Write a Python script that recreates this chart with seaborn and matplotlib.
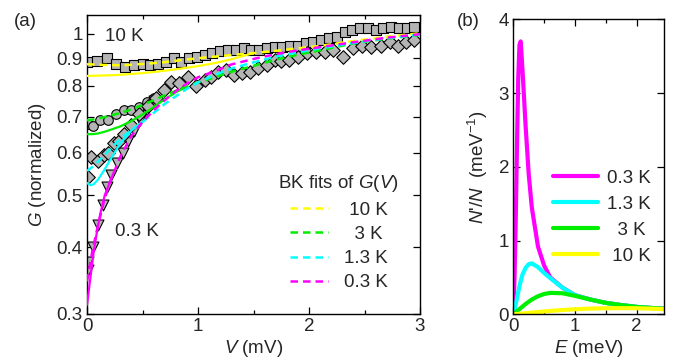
import numpy as np
import pandas as pd
import matplotlib
matplotlib.use("Agg")
import matplotlib.pyplot as plt
import matplotlib.ticker as mticker
import seaborn as sns

# ---------------- data: panel (a) ----------------
v_sq = [0.00, 0.09, 0.18, 0.26, 0.34, 0.42, 0.50, 0.57, 0.64, 0.71, 0.78, 0.85, 0.92, 0.99,
        1.06, 1.13, 1.20, 1.27, 1.34, 1.41, 1.48, 1.55, 1.62, 1.69, 1.76, 1.83, 1.90, 1.97,
        2.04, 2.11, 2.18, 2.25, 2.32, 2.39, 2.46, 2.53, 2.60, 2.67, 2.74, 2.81, 2.88, 2.95]
g_sq = [0.885, 0.89, 0.90, 0.88, 0.866, 0.875, 0.88, 0.875, 0.878, 0.888, 0.90, 0.886, 0.90, 0.905,
        0.915, 0.92, 0.93, 0.935, 0.935, 0.94, 0.935, 0.935, 0.94, 0.945, 0.945, 0.95, 0.95, 0.96,
        0.966, 0.975, 0.983, 0.985, 1.008, 1.017, 1.026, 1.025, 1.017, 1.026, 1.03, 1.026, 1.026, 1.03]

v_ci = [0.01, 0.05, 0.12, 0.19, 0.26, 0.33, 0.40, 0.47, 0.54, 0.60]
g_ci = [0.68, 0.672, 0.69, 0.692, 0.71, 0.72, 0.72, 0.73, 0.745, 0.76]

v_tri = [0.005, 0.01, 0.05, 0.10, 0.14, 0.18, 0.22, 0.27, 0.32, 0.37, 0.42, 0.48, 0.54, 0.60]
g_tri = [0.362, 0.375, 0.40, 0.44, 0.48, 0.518, 0.545, 0.575, 0.60, 0.63, 0.66, 0.69, 0.72, 0.75]

v_di = [0.01, 0.04, 0.10, 0.15, 0.19, 0.24, 0.29, 0.33, 0.40, 0.47, 0.55, 0.62, 0.69, 0.76,
        0.83, 0.91, 0.98, 1.06, 1.12, 1.18, 1.25, 1.32, 1.40, 1.47, 1.54, 1.62, 1.69, 1.75,
        1.82, 1.90, 1.98, 2.06, 2.14, 2.22, 2.31, 2.40, 2.48, 2.56, 2.65, 2.73, 2.80, 2.87, 2.95]
g_di = [0.54, 0.59, 0.58, 0.595, 0.60, 0.625, 0.63, 0.65, 0.675, 0.71, 0.735, 0.76, 0.785, 0.815,
        0.81, 0.83, 0.80, 0.82, 0.83, 0.85, 0.856, 0.84, 0.845, 0.85, 0.864, 0.875, 0.894, 0.89,
        0.895, 0.905, 0.92, 0.925, 0.925, 0.933, 0.905, 0.94, 0.95, 0.945, 0.95, 0.966, 0.95, 0.966, 0.975]

v_fit = [0, 0.05, 0.1, 0.15, 0.2, 0.3, 0.4, 0.5, 0.6, 0.7, 0.8, 0.9, 1.0, 1.15, 1.3, 1.5, 1.7, 1.9, 2.1, 2.4, 2.7, 3.0]
bk_10K = [0.878, 0.877, 0.876, 0.875, 0.875, 0.874, 0.876, 0.879, 0.882, 0.886, 0.891, 0.896, 0.901, 0.907, 0.913, 0.921, 0.930, 0.940, 0.950, 0.970, 0.988, 1.003]
bk_3K = [0.690, 0.692, 0.695, 0.699, 0.703, 0.712, 0.723, 0.737, 0.752, 0.768, 0.783, 0.798, 0.812, 0.830, 0.850, 0.872, 0.895, 0.915, 0.932, 0.960, 0.980, 0.996]
bk_1p3K = [0.555, 0.565, 0.578, 0.592, 0.607, 0.637, 0.662, 0.685, 0.712, 0.740, 0.765, 0.790, 0.812, 0.838, 0.862, 0.885, 0.907, 0.924, 0.940, 0.962, 0.982, 0.997]
bk_0p3K = [0.345, 0.395, 0.440, 0.485, 0.525, 0.590, 0.645, 0.685, 0.720, 0.752, 0.782, 0.808, 0.830, 0.852, 0.877, 0.898, 0.917, 0.932, 0.945, 0.965, 0.984, 0.999]

v_s10 = [0, 0.1, 0.2, 0.3, 0.4, 0.5, 0.6, 0.7, 0.8, 0.9, 1.0, 1.15, 1.3, 1.5]
g_s10 = [0.835, 0.836, 0.837, 0.839, 0.842, 0.845, 0.849, 0.854, 0.859, 0.865, 0.871, 0.882, 0.897, 0.921]
v_s3 = [0, 0.05, 0.1, 0.15, 0.2, 0.3, 0.4, 0.5, 0.6, 0.7, 0.8, 0.9]
g_s3 = [0.650, 0.650, 0.652, 0.656, 0.661, 0.672, 0.688, 0.707, 0.730, 0.755, 0.778, 0.798]
v_s13 = [0, 0.03, 0.06, 0.1, 0.15, 0.2, 0.3, 0.4, 0.5]
g_s13 = [0.527, 0.522, 0.524, 0.535, 0.555, 0.578, 0.625, 0.660, 0.685]
v_s03 = [0, 0.03, 0.06, 0.09, 0.12, 0.16, 0.2, 0.25]
g_s03 = [0.312, 0.350, 0.392, 0.428, 0.462, 0.500, 0.525, 0.557]

g_ticks = [0.3, 0.4, 0.5, 0.6, 0.7, 0.8, 0.9, 1.0]
g_ticklabels = ["0.3", "0.4", "0.5", "0.6", "0.7", "0.8", "0.9", "1"]
bk_labels = [" 10 K", "  3 K", "1.3 K", "0.3 K"]

# ---------------- data: panel (b) ----------------
e_vals = [0, 0.02, 0.04, 0.06, 0.08, 0.10, 0.12, 0.15, 0.2, 0.25, 0.3, 0.4, 0.5, 0.6, 0.8, 1.0, 1.25, 1.5, 1.75, 2.0, 2.25, 2.5]
dos_0p3 = [0, 0.5, 1.3, 2.3, 3.2, 3.65, 3.70, 3.30, 2.55, 1.9, 1.45, 0.92, 0.66, 0.50, 0.36, 0.26, 0.20, 0.155, 0.125, 0.10, 0.085, 0.072]
dos_1p3 = [0, 0.06, 0.14, 0.22, 0.30, 0.38, 0.45, 0.54, 0.63, 0.68, 0.69, 0.64, 0.56, 0.49, 0.36, 0.26, 0.20, 0.155, 0.125, 0.10, 0.085, 0.072]
dos_3 = [0, 0.01, 0.025, 0.04, 0.055, 0.07, 0.085, 0.105, 0.14, 0.17, 0.20, 0.245, 0.275, 0.29, 0.285, 0.25, 0.20, 0.155, 0.125, 0.10, 0.085, 0.072]
dos_10 = [0, 0.001, 0.002, 0.004, 0.005, 0.007, 0.008, 0.010, 0.014, 0.018, 0.022, 0.030, 0.038, 0.045, 0.058, 0.068, 0.077, 0.082, 0.083, 0.082, 0.076, 0.068]
dos_labels = ["0.3 K", "1.3 K", "  3 K", " 10 K"]

# ---------------- style ----------------
sns.set_theme(style="ticks")
plt.rcParams["font.family"] = ["Liberation Sans", "DejaVu Sans"]
plt.rcParams["mathtext.fontset"] = "custom"
plt.rcParams["mathtext.rm"] = "Liberation Sans"
plt.rcParams["mathtext.it"] = "Liberation Sans:italic"
plt.rcParams["mathtext.bf"] = "Liberation Sans:bold"
FS = 13.5

MAG, CYA, GRN, YEL = "#ff00ff", "#00ffff", "#00ee00", "#ffff00"
GRAY = "#b4b4b4"
DASH = (0, (3, 2))

fig = plt.figure(figsize=(6.73, 3.6), dpi=100)
ax1 = fig.add_axes([0.1293, 0.1278, 0.4948, 0.8306])
ax2 = fig.add_axes([0.7627, 0.127, 0.2244, 0.8194])

# ---------------- panel (a) ----------------
mk = dict(color=GRAY, edgecolor="black", linewidth=0.8, ax=ax1, legend=False, zorder=2)
sns.scatterplot(x=v_sq, y=g_sq, marker="s", s=50, **mk)
sns.scatterplot(x=v_ci, y=g_ci, marker="o", s=48, **mk)
sns.scatterplot(x=v_tri, y=g_tri, marker="v", s=62, **mk)
sns.scatterplot(x=v_di, y=g_di, marker="D", s=48, **mk)

for vx, gy, c in [(v_s10, g_s10, YEL), (v_s3, g_s3, GRN), (v_s13, g_s13, CYA), (v_s03, g_s03, MAG)]:
    sns.lineplot(x=vx, y=gy, color=c, lw=1.6, ax=ax1, estimator=None, sort=False, zorder=3)

bk_handles = []
for gy, c, lab in zip([bk_10K, bk_3K, bk_1p3K, bk_0p3K], [YEL, GRN, CYA, MAG], bk_labels):
    sns.lineplot(x=v_fit, y=gy, color=c, lw=1.8, linestyle=DASH, ax=ax1,
                 estimator=None, sort=False, zorder=4)
    bk_handles.append(ax1.get_lines()[-1])

ax1.set_yscale("log")
ax1.set_xlim(0, 3)
ax1.set_ylim(0.3, 1.085)
ax1.yaxis.set_major_locator(mticker.FixedLocator(g_ticks))
ax1.yaxis.set_major_formatter(mticker.FixedFormatter(g_ticklabels))
ax1.yaxis.set_minor_locator(mticker.NullLocator())
ax1.xaxis.set_major_locator(mticker.MultipleLocator(1))
ax1.xaxis.set_minor_locator(mticker.MultipleLocator(0.5))
ax1.set_xlabel("$V$ (mV)", fontsize=FS, labelpad=2)
ax1.set_ylabel("$G$ (normalized)", fontsize=FS, labelpad=6)
ax1.text(0.16, 0.99, "10 K", fontsize=FS, va="center", ha="left")
ax1.text(0.25, 0.427, "0.3 K", fontsize=FS, va="center", ha="left")
leg1 = ax1.legend(bk_handles, bk_labels, title="BK fits of $G$($V$)", fontsize=FS,
                  title_fontsize=FS, frameon=False, loc="upper left",
                  bbox_to_anchor=(0.575, 0.47), borderpad=0, borderaxespad=0,
                  handlelength=2.0, handletextpad=0.85, labelspacing=0.38)

# ---------------- panel (b) ----------------
for dy, c, lab in zip([dos_0p3, dos_1p3, dos_3, dos_10], [MAG, CYA, GRN, YEL], dos_labels):
    sns.lineplot(x=e_vals, y=dy, color=c, lw=3, ax=ax2, estimator=None, sort=False, label=lab)

ax2.set_xlim(0, 2.45)
ax2.set_ylim(0, 4)
ax2.xaxis.set_major_locator(mticker.MultipleLocator(1))
ax2.xaxis.set_minor_locator(mticker.MultipleLocator(0.5))
ax2.yaxis.set_major_locator(mticker.MultipleLocator(1))
ax2.set_xlabel("$E$ (meV)", fontsize=FS, labelpad=2)
ax2.set_ylabel("$N$'/$N$  (meV$^{-1}$)", fontsize=FS, labelpad=6)
ax2.legend(fontsize=FS, frameon=False, loc="upper left", bbox_to_anchor=(0.263, 0.49),
           borderpad=0, borderaxespad=0, handlelength=2.4, handletextpad=0.5, labelspacing=0.47)

for ax in (ax1, ax2):
    ax.tick_params(which="both", direction="in", top=True, right=True, labelsize=FS,
                   width=0.9, color="black", pad=3)
    ax.tick_params(which="major", length=5)
    ax.tick_params(which="minor", length=3)
    for sp in ax.spines.values():
        sp.set_linewidth(1.0)
        sp.set_color("black")

fig.text(25 / 673, 1 - 21 / 360, "(a)", fontsize=FS, ha="center", va="center")
fig.text(468 / 673, 1 - 21 / 360, "(b)", fontsize=FS, ha="center", va="center")

fig.savefig("out.png", dpi=100)
